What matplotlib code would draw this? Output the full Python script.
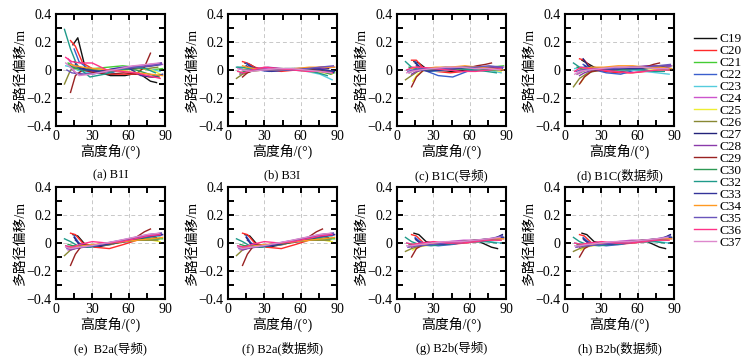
import matplotlib
matplotlib.use("Agg")
import matplotlib.pyplot as plt
from matplotlib.ticker import MultipleLocator

plt.rcParams["font.family"] = ["Liberation Serif", "Noto Sans CJK SC"]
plt.rcParams["axes.unicode_minus"] = True

SATS = ["C19", "C20", "C21", "C22", "C23", "C24", "C25", "C26", "C27",
        "C28", "C29", "C30", "C32", "C33", "C34", "C35", "C36", "C37"]
COLORS = ["#111111", "#ff2a2a", "#44cc33", "#3a5fcd", "#55ccdd", "#cc55cc",
          "#eeee33", "#888833", "#22227a", "#8a3aaa", "#992222", "#2e9955",
          "#1f9a8a", "#333399", "#ff9922", "#6a55bb", "#ff3388", "#dd88cc"]

# elevation samples (deg) along each satellite arc
ELEV = {
    "C19": [14, 18, 24, 33, 45, 57, 68, 78, 83],
    "C20": [12, 16, 22, 32, 44, 56, 67, 77, 85],
    "C21": [10, 15, 21, 31, 43, 55, 66, 77, 88],
    "C22": [15, 19, 25, 34, 46, 58, 69, 79, 87],
    "C23": [8, 13, 20, 30, 42, 54, 65, 76, 86],
    "C24": [10, 14, 21, 31, 43, 55, 67, 78, 88],
    "C25": [13, 17, 23, 33, 45, 57, 68, 79, 86],
    "C26": [7, 12, 19, 29, 41, 53, 64, 75, 84],
    "C27": [15, 19, 26, 35, 47, 59, 70, 80, 87],
    "C28": [12, 16, 23, 33, 45, 56, 67, 78, 87],
    "C29": [12, 16, 22, 32, 44, 56, 66, 73, 78],
    "C30": [10, 14, 21, 31, 43, 55, 66, 77, 85],
    "C32": [7, 12, 18, 28, 40, 52, 63, 74, 82],
    "C33": [16, 20, 26, 36, 48, 59, 70, 80, 88],
    "C34": [12, 16, 22, 32, 44, 56, 67, 78, 88],
    "C35": [9, 13, 20, 30, 42, 54, 65, 76, 87],
    "C36": [8, 13, 20, 30, 42, 54, 65, 76, 86],
    "C37": [8, 12, 19, 29, 41, 53, 64, 75, 85],
}

B1I = {
    "C19": [0.18, 0.23, 0.02, -0.01, -0.04, -0.04, -0.02, -0.08, -0.09],
    "C20": [0.21, 0.17, 0.05, 0.00, -0.03, -0.03, -0.03, -0.05, -0.05],
    "C21": [0.05, 0.03, 0.00, 0.01, 0.02, 0.03, 0.02, 0.00, 0.01],
    "C22": [0.15, 0.06, 0.02, 0.00, -0.02, 0.02, 0.03, 0.04, 0.05],
    "C23": [0.03, 0.02, -0.01, -0.02, 0.00, 0.02, 0.02, 0.01, -0.01],
    "C24": [0.08, 0.03, 0.00, -0.01, 0.00, 0.02, 0.03, 0.04, 0.04],
    "C25": [0.02, 0.01, 0.00, 0.00, -0.01, 0.00, 0.01, 0.00, -0.03],
    "C26": [-0.10, 0.00, 0.02, 0.00, -0.01, 0.00, 0.01, 0.01, 0.02],
    "C27": [0.06, 0.02, 0.00, -0.01, 0.00, 0.01, 0.02, 0.03, 0.04],
    "C28": [0.02, -0.02, -0.03, -0.02, 0.00, 0.01, 0.02, 0.03, 0.05],
    "C29": [-0.16, -0.04, 0.00, -0.02, -0.03, -0.02, -0.03, 0.02, 0.12],
    "C30": [0.04, 0.02, 0.00, 0.00, -0.01, 0.01, 0.00, -0.03, -0.05],
    "C32": [0.29, 0.15, 0.02, -0.05, -0.03, 0.00, 0.02, 0.01, -0.02],
    "C33": [0.04, 0.01, 0.00, -0.01, 0.01, 0.02, -0.04, -0.05, -0.03],
    "C34": [0.04, 0.03, 0.02, 0.01, 0.00, -0.01, -0.02, -0.03, -0.04],
    "C35": [0.00, -0.02, -0.03, -0.03, -0.01, 0.01, 0.02, 0.03, 0.04],
    "C36": [0.09, 0.06, 0.05, 0.05, 0.00, -0.01, -0.02, -0.04, -0.06],
    "C37": [0.05, 0.02, -0.04, -0.03, -0.01, 0.01, 0.03, 0.04, 0.05],
}

B3I = {
    "C19": [0.05, 0.04, 0.01, 0.00, 0.00, 0.00, 0.01, 0.01, 0.01],
    "C20": [0.06, 0.05, 0.02, 0.00, -0.01, 0.00, 0.01, 0.02, 0.02],
    "C21": [-0.03, -0.02, 0.00, 0.00, 0.01, 0.01, 0.00, -0.01, -0.02],
    "C22": [0.05, 0.02, 0.00, -0.01, 0.00, 0.01, 0.01, 0.00, -0.01],
    "C23": [0.02, 0.01, 0.01, 0.00, 0.00, 0.00, -0.01, -0.03, -0.07],
    "C24": [-0.03, -0.01, 0.00, 0.01, 0.00, 0.00, 0.01, 0.02, 0.02],
    "C25": [0.01, 0.00, 0.00, 0.00, 0.01, 0.00, -0.01, -0.02, -0.03],
    "C26": [-0.06, -0.03, -0.01, 0.00, 0.00, 0.01, 0.01, 0.00, -0.01],
    "C27": [0.03, 0.01, 0.00, 0.00, 0.01, 0.01, 0.00, -0.01, -0.02],
    "C28": [-0.02, -0.01, 0.01, 0.02, 0.01, 0.00, 0.00, 0.01, 0.02],
    "C29": [-0.05, -0.02, 0.00, 0.00, 0.00, 0.01, 0.01, 0.00, -0.01],
    "C30": [-0.02, -0.01, 0.00, 0.00, 0.00, 0.01, 0.00, -0.01, -0.03],
    "C32": [0.02, 0.02, 0.01, 0.00, 0.00, 0.00, 0.00, -0.02, -0.04],
    "C33": [0.04, 0.02, 0.00, -0.01, 0.00, 0.01, 0.01, 0.00, -0.01],
    "C34": [0.03, 0.02, 0.01, 0.00, 0.00, 0.01, 0.02, 0.02, 0.02],
    "C35": [0.01, 0.00, 0.00, 0.00, 0.00, 0.00, 0.01, 0.02, 0.03],
    "C36": [-0.01, -0.02, 0.00, 0.02, 0.01, 0.00, -0.01, -0.01, -0.02],
    "C37": [0.01, 0.00, -0.01, 0.00, 0.01, 0.01, 0.00, -0.01, -0.02],
}

B1C_PILOT = {
    "C19": [0.06, 0.05, 0.01, 0.00, -0.01, 0.00, 0.01, 0.02, 0.01],
    "C20": [0.07, 0.07, 0.01, -0.01, -0.02, -0.01, 0.00, 0.01, 0.00],
    "C21": [-0.02, 0.00, 0.01, 0.01, 0.00, 0.01, 0.02, 0.02, 0.03],
    "C22": [0.06, 0.02, -0.01, -0.04, -0.05, -0.01, 0.01, 0.02, 0.01],
    "C23": [0.00, 0.01, 0.00, -0.01, 0.00, 0.01, 0.01, 0.00, -0.02],
    "C24": [-0.02, 0.00, 0.01, 0.01, 0.02, 0.02, 0.01, 0.01, 0.02],
    "C25": [-0.08, -0.03, 0.00, 0.01, 0.02, 0.02, 0.01, 0.00, -0.01],
    "C26": [-0.07, -0.04, 0.00, 0.01, 0.01, 0.01, 0.02, 0.01, 0.02],
    "C27": [0.05, 0.02, 0.00, 0.00, 0.01, 0.02, 0.02, 0.01, 0.00],
    "C28": [-0.03, -0.01, 0.00, 0.01, 0.01, 0.02, 0.02, 0.02, 0.02],
    "C29": [-0.12, -0.05, 0.00, 0.01, 0.01, 0.01, 0.03, 0.04, 0.05],
    "C30": [0.02, 0.01, 0.00, 0.00, 0.01, 0.01, 0.01, 0.00, 0.00],
    "C32": [0.06, 0.02, 0.00, 0.01, 0.02, 0.01, 0.00, -0.01, -0.02],
    "C33": [0.03, 0.00, -0.01, 0.00, 0.01, 0.02, 0.01, 0.01, 0.00],
    "C34": [0.01, 0.02, 0.01, 0.02, 0.02, 0.03, 0.02, 0.01, 0.00],
    "C35": [-0.01, 0.00, 0.01, 0.01, 0.01, 0.02, 0.02, 0.03, 0.02],
    "C36": [0.00, 0.02, 0.02, 0.01, 0.00, -0.01, -0.01, 0.00, 0.01],
    "C37": [-0.02, -0.01, 0.00, 0.01, 0.02, 0.02, 0.01, 0.01, 0.00],
}

B1C_DATA = {
    "C19": [0.07, 0.05, 0.02, 0.00, -0.01, 0.00, 0.01, 0.03, 0.02],
    "C20": [0.08, 0.07, 0.01, -0.01, -0.02, -0.02, -0.01, 0.00, 0.01],
    "C21": [-0.03, -0.01, 0.01, 0.01, 0.01, 0.02, 0.02, 0.02, 0.03],
    "C22": [0.04, 0.02, 0.00, -0.02, -0.03, 0.00, 0.01, 0.02, 0.03],
    "C23": [0.01, 0.02, 0.02, 0.01, 0.00, 0.00, -0.01, -0.02, -0.03],
    "C24": [-0.03, -0.01, 0.01, 0.01, 0.02, 0.02, 0.02, 0.03, 0.03],
    "C25": [-0.09, -0.04, 0.00, 0.01, 0.01, 0.02, 0.01, 0.00, 0.00],
    "C26": [-0.12, -0.06, -0.02, 0.00, 0.01, 0.01, 0.02, 0.02, 0.03],
    "C27": [0.08, 0.03, 0.00, 0.00, 0.01, 0.01, 0.02, 0.02, 0.01],
    "C28": [-0.04, -0.02, 0.00, 0.01, 0.01, 0.02, 0.03, 0.03, 0.03],
    "C29": [-0.10, -0.05, -0.01, 0.00, 0.01, 0.01, 0.02, 0.04, 0.05],
    "C30": [0.02, 0.01, 0.01, 0.00, 0.00, 0.01, 0.02, 0.01, 0.00],
    "C32": [0.05, 0.02, 0.00, 0.01, 0.02, 0.01, 0.00, -0.01, -0.01],
    "C33": [0.03, 0.01, 0.00, 0.00, 0.01, 0.01, 0.02, 0.02, 0.01],
    "C34": [0.00, 0.01, 0.02, 0.02, 0.03, 0.03, 0.02, 0.02, 0.01],
    "C35": [-0.01, 0.00, 0.01, 0.01, 0.01, 0.02, 0.02, 0.03, 0.04],
    "C36": [-0.01, 0.02, 0.01, 0.00, -0.01, -0.02, -0.01, 0.00, 0.00],
    "C37": [-0.03, -0.01, 0.00, 0.01, 0.02, 0.02, 0.02, 0.01, 0.01],
}

B2A_PILOT = {
    "C19": [0.06, 0.05, -0.01, -0.03, -0.01, 0.02, 0.03, 0.04, 0.04],
    "C20": [0.07, 0.06, 0.00, -0.03, -0.04, -0.01, 0.02, 0.04, 0.05],
    "C21": [-0.03, -0.02, -0.02, -0.02, -0.01, 0.01, 0.03, 0.03, 0.03],
    "C22": [0.05, 0.00, -0.02, -0.02, -0.01, 0.02, 0.03, 0.05, 0.06],
    "C23": [-0.02, -0.03, -0.03, -0.02, 0.00, 0.01, 0.03, 0.04, 0.05],
    "C24": [-0.05, -0.04, -0.03, -0.02, 0.00, 0.02, 0.03, 0.05, 0.06],
    "C25": [-0.04, -0.03, -0.03, -0.02, -0.01, 0.01, 0.02, 0.02, 0.01],
    "C26": [-0.09, -0.05, -0.03, -0.02, -0.01, 0.01, 0.02, 0.02, 0.02],
    "C27": [0.04, -0.01, -0.03, -0.02, 0.00, 0.01, 0.03, 0.05, 0.06],
    "C28": [-0.05, -0.04, -0.03, -0.02, 0.00, 0.02, 0.04, 0.06, 0.07],
    "C29": [-0.16, -0.08, -0.01, -0.02, -0.01, 0.01, 0.04, 0.08, 0.10],
    "C30": [-0.01, -0.02, -0.02, -0.02, -0.01, 0.01, 0.02, 0.03, 0.03],
    "C32": [0.03, 0.01, -0.02, -0.03, -0.01, 0.01, 0.03, 0.04, 0.05],
    "C33": [0.02, -0.01, -0.02, -0.02, 0.00, 0.02, 0.04, 0.05, 0.06],
    "C34": [-0.03, -0.03, -0.02, -0.01, 0.00, 0.01, 0.02, 0.03, 0.04],
    "C35": [-0.04, -0.04, -0.03, -0.02, 0.00, 0.02, 0.04, 0.06, 0.07],
    "C36": [-0.02, -0.03, -0.01, 0.01, 0.00, 0.01, 0.03, 0.05, 0.06],
    "C37": [-0.03, -0.04, -0.03, -0.02, 0.00, 0.02, 0.04, 0.06, 0.07],
}

# data channel is visually indistinguishable from the pilot one
B2A_DATA = B2A_PILOT

B2B_PILOT = {
    "C19": [0.07, 0.06, 0.01, -0.01, 0.00, 0.01, 0.01, -0.03, -0.04],
    "C20": [0.06, 0.05, 0.00, -0.01, -0.01, 0.00, 0.01, 0.02, 0.03],
    "C21": [-0.02, -0.01, -0.01, -0.01, 0.00, 0.01, 0.02, 0.03, 0.04],
    "C22": [0.04, 0.01, -0.01, -0.02, -0.01, 0.01, 0.02, 0.03, 0.05],
    "C23": [0.00, -0.01, -0.01, -0.01, 0.00, 0.01, 0.01, 0.01, 0.00],
    "C24": [-0.03, -0.02, -0.01, 0.00, 0.01, 0.02, 0.02, 0.03, 0.03],
    "C25": [-0.05, -0.03, -0.02, -0.01, 0.00, 0.01, 0.02, 0.02, 0.02],
    "C26": [-0.06, -0.04, -0.02, -0.01, 0.00, 0.01, 0.02, 0.02, 0.03],
    "C27": [0.03, 0.00, -0.01, -0.01, 0.00, 0.01, 0.02, 0.03, 0.06],
    "C28": [-0.03, -0.02, -0.01, 0.00, 0.01, 0.01, 0.02, 0.03, 0.04],
    "C29": [-0.10, -0.04, -0.01, -0.01, 0.00, 0.01, 0.02, 0.02, 0.03],
    "C30": [-0.01, -0.01, -0.01, -0.01, 0.00, 0.01, 0.02, 0.03, 0.02],
    "C32": [0.04, 0.01, -0.01, -0.02, -0.01, 0.00, 0.01, 0.01, 0.00],
    "C33": [0.02, 0.00, -0.01, -0.01, 0.00, 0.01, 0.02, 0.03, 0.04],
    "C34": [-0.02, -0.01, -0.01, 0.00, 0.00, 0.01, 0.02, 0.03, 0.03],
    "C35": [-0.03, -0.02, -0.02, -0.01, 0.00, 0.01, 0.02, 0.03, 0.05],
    "C36": [0.00, -0.01, 0.00, 0.01, 0.00, 0.00, 0.01, 0.02, 0.02],
    "C37": [-0.02, -0.02, -0.01, 0.00, 0.01, 0.01, 0.02, 0.03, 0.04],
}

B2B_DATA = B2B_PILOT

CAPTIONS = ["(a) B1I", "(b) B3I", "(c) B1C(导频)", "(d) B1C(数据频)",
            "(e)  B2a(导频)", "(f) B2a(数据频)", "(g) B2b(导频)", "(h) B2b(数据频)"]
PANELS = [B1I, B3I, B1C_PILOT, B1C_DATA, B2A_PILOT, B2A_DATA, B2B_PILOT, B2B_DATA]
XTICKS = [0, 30, 60, 90]
YTICKS = [-0.4, -0.2, 0, 0.2, 0.4]
YTICKLABELS = ["\u22120.4", "\u22120.2", "0", "0.2", "0.4"]

W, H = 750, 356
fig = plt.figure(figsize=(W / 100, H / 100), dpi=100)

lefts = [56, 228, 397, 565]
tops = [14, 187]
aw, ah = 109, 112

handles = []
for i, (data, cap) in enumerate(zip(PANELS, CAPTIONS)):
    r, c = divmod(i, 4)
    ax = fig.add_axes([lefts[c] / W, 1 - (tops[r] + ah) / H, aw / W, ah / H])
    for sat, col in zip(SATS, COLORS):
        ln, = ax.plot(ELEV[sat], data[sat], color=col, lw=1.0, label=sat)
        if i == 0:
            handles.append(ln)
    ax.set_xlim(0, 90)
    ax.set_ylim(-0.4, 0.4)
    ax.set_xticks(XTICKS)
    ax.set_yticks(YTICKS)
    ax.set_yticklabels(YTICKLABELS)
    ax.xaxis.set_minor_locator(MultipleLocator(15))
    ax.yaxis.set_minor_locator(MultipleLocator(0.1))
    ax.tick_params(which="both", direction="in", top=True, right=True,
                   length=4, width=1.4, labelsize=10, pad=3)
    ax.grid(True, which="major", ls=(0, (4, 3)), color="#c8c8c8", lw=0.7)
    for s in ax.spines.values():
        s.set_linewidth(1.5)
    ax.set_xlabel("高度角/(°)", fontsize=10, labelpad=1)
    ax.set_ylabel("多路径偏移/m", fontsize=10, labelpad=0)
    ax.text(0.5, -0.44, cap, transform=ax.transAxes, ha="center", va="center",
            fontsize=9)

fig.legend(handles=handles, loc="upper left", bbox_to_anchor=(694 / W, 1 - 33 / H),
           frameon=False, fontsize=9.5, handlelength=1.7, handletextpad=0.2,
           labelspacing=-0.02, borderpad=0, borderaxespad=0)

fig.savefig("out.png", dpi=100)
